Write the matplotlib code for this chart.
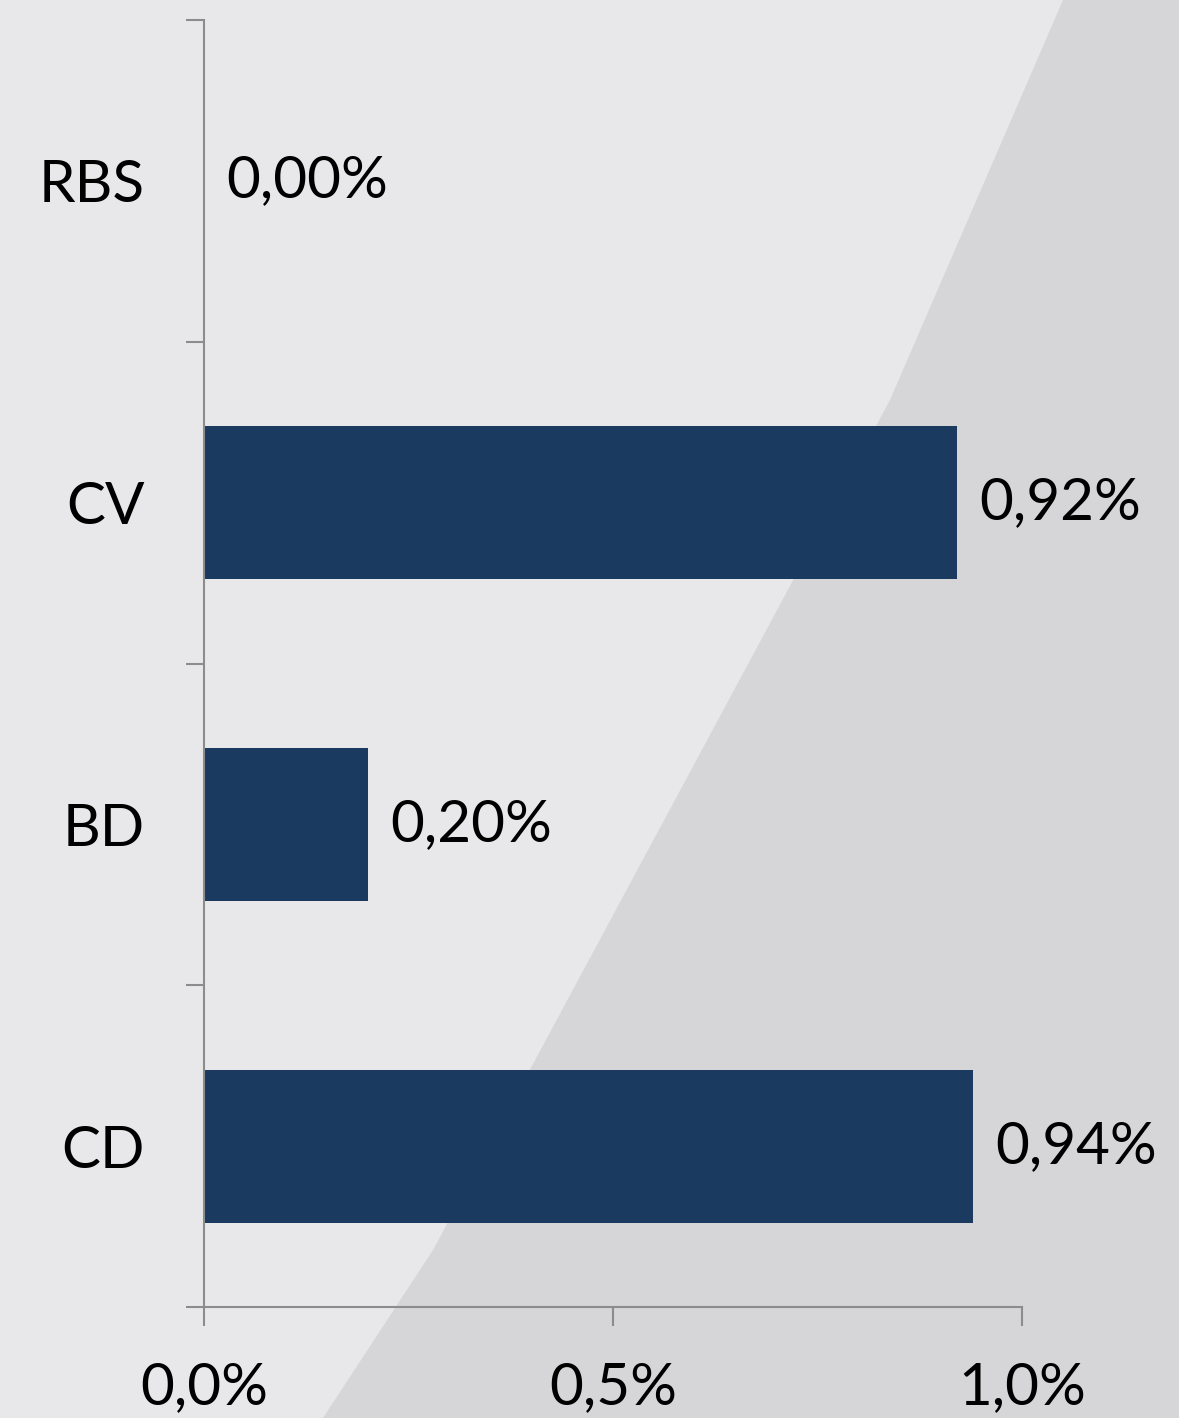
import matplotlib.pyplot as plt
from matplotlib.patches import Polygon

# Data
categories = ['CD', 'BD', 'CV', 'RBS']
values = [0.94, 0.20, 0.92, 0.00]
value_labels = ['0,94%', '0,20%', '0,92%', '0,00%']
xticks = [0.0, 0.5, 1.0]
xtick_labels = ['0,0%', '0,5%', '1,0%']

bar_color = '#1b3a5f'
axis_color = '#8c8c8c'

plt.rcParams['font.family'] = ['Lato', 'DejaVu Sans']

fig = plt.figure(figsize=(11.79, 14.18), dpi=100)
fig.patch.set_facecolor('#e8e8ea')

# Background with the darker diagonal wedge on the right
bg = fig.add_axes([0, 0, 1, 1])
bg.set_xlim(0, 1179)
bg.set_ylim(1418, 0)
bg.axis('off')
edge = [(1063, 0), (890, 400), (433, 1250), (323, 1418)]
bg.add_patch(Polygon(edge + [(1179, 1418), (1179, 0)], closed=True,
                     facecolor='#d6d6d8', edgecolor='none'))

ax = fig.add_axes([204 / 1179, 111 / 1418, 818 / 1179, 1287 / 1418])
ax.patch.set_alpha(0)

ypos = list(range(len(categories)))
ax.barh(ypos, values, height=0.475, color=bar_color)

for y, v, lab in zip(ypos, values, value_labels):
    ax.annotate(lab, xy=(v, y), xytext=(16, 0), textcoords='offset points',
                ha='left', va='center', fontsize=42, color='black',
                annotation_clip=False)

ax.set_xlim(0, 1.0)
ax.set_ylim(-0.5, len(categories) - 0.5)

for side in ['top', 'right']:
    ax.spines[side].set_visible(False)
for side in ['left', 'bottom']:
    ax.spines[side].set_color(axis_color)
    ax.spines[side].set_linewidth(1.5)

# category labels at centres, tick marks at boundaries
ax.set_yticks(ypos)
ax.set_yticklabels(categories, fontsize=42)
ax.tick_params(axis='y', which='major', length=0, pad=43)
ax.set_yticks([i - 0.5 for i in range(len(categories) + 1)], minor=True)
ax.tick_params(axis='y', which='minor', length=13, width=1.5, color=axis_color)

ax.set_xticks(xticks)
ax.set_xticklabels(xtick_labels, fontsize=42)
ax.tick_params(axis='x', length=14, width=1.5, color=axis_color, pad=25)

fig.savefig('out.png', dpi=100, facecolor=fig.get_facecolor())
